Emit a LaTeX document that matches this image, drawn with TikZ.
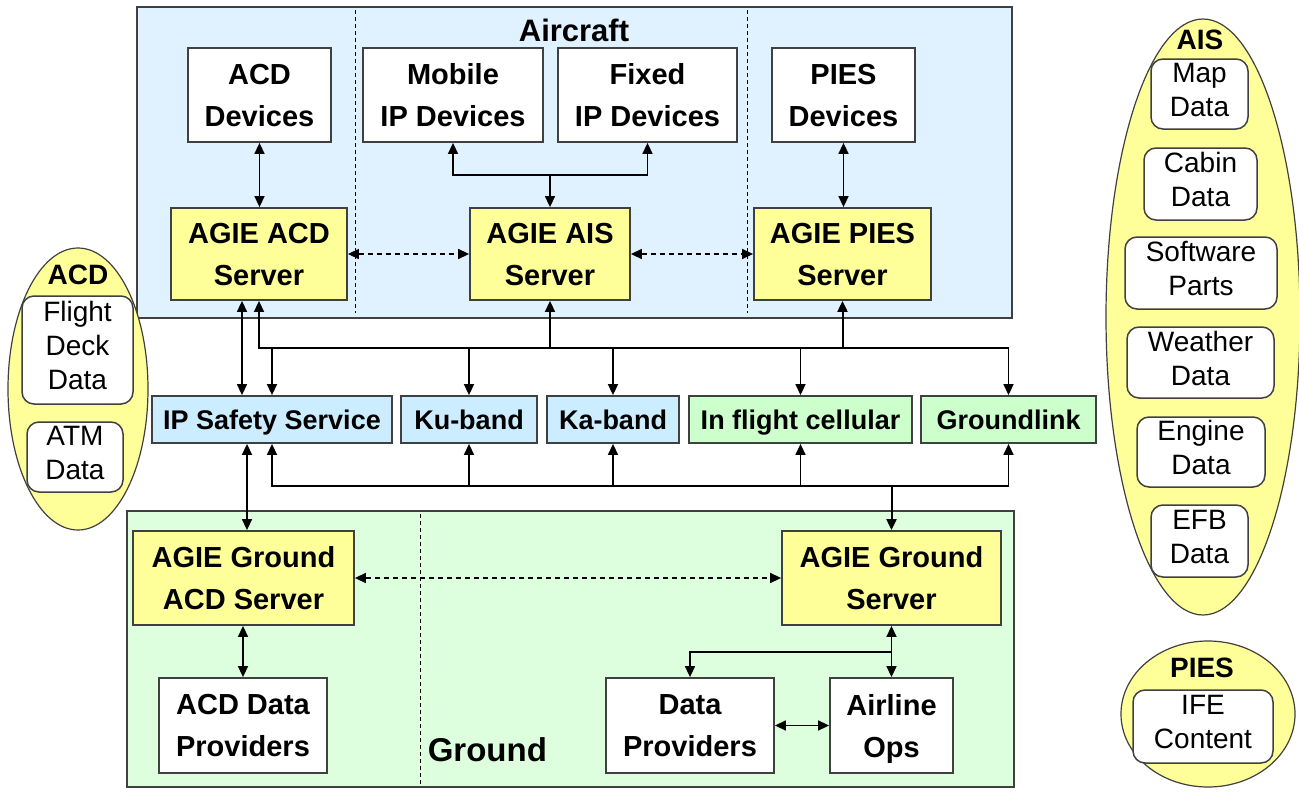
\documentclass[tikz,border=0pt]{standalone}
\usepackage{fontspec}
\setmainfont{Liberation Sans}
\usetikzlibrary{arrows.meta,shapes.geometric}
\definecolor{airblue}{RGB}{224,241,255}
\definecolor{gndgreen}{RGB}{221,255,221}
\definecolor{linkblue}{RGB}{204,236,255}
\definecolor{linkgreen}{RGB}{204,255,204}
\definecolor{srvyellow}{RGB}{255,255,153}
\definecolor{edgegray}{RGB}{64,64,64}
\newcommand{\bigbold}{\fontsize{29}{42}\selectfont\bfseries}
\newcommand{\linkfont}{\fontsize{27}{32}\selectfont\bfseries}
\newcommand{\datafont}{\fontsize{28}{34}\selectfont}
\newcommand{\grptitle}{\fontsize{28}{32}\selectfont\bfseries}
\tikzset{every picture/.style={line width=1.5pt},
  region/.style={draw=edgegray,line width=1.5pt},
  sep/.style={line width=1pt,dash pattern=on 4pt off 3pt},
  box/.style={draw=edgegray,line width=1.8pt,align=center,inner sep=0pt,text depth=0pt,font=\bigbold},
  devbox/.style={box,fill=white},
  srvbox/.style={box,fill=srvyellow},
  linkbox/.style={box,font=\linkfont,minimum height=47pt,text height=19.3pt},
  databox/.style={draw=edgegray,line width=1.5pt,fill=white,rounded corners=12pt,align=center,inner sep=0pt,text depth=9pt,font=\datafont},
  grp/.style={draw=edgegray,line width=1.2pt,ellipse,fill=srvyellow,inner sep=0pt},
  dsh/.style={dash pattern=on 5pt off 4pt}
}

\begin{document}
\begin{tikzpicture}[x=1pt,y=1pt,yscale=-1,>={Triangle[length=11pt,width=10pt]}]
\useasboundingbox (0,0) rectangle (1299,795);

%Shape: Rectangle (aircraft)
\draw[region,fill=airblue] (137,7) rectangle (1012,318);
\draw[sep] (355,10) -- (355,313);
\draw[sep] (747,10) -- (747,313);
%Shape: Rectangle (ground)
\draw[region,fill=gndgreen] (127,511) rectangle (1014,787);
\draw[sep] (420,514) -- (420,784);

% Text Node
\node[font=\fontsize{31}{36}\selectfont\bfseries] (aircraft) at (574,30) {Aircraft};
\node[font=\fontsize{33}{38}\selectfont\bfseries,anchor=west,inner sep=0pt] (ground) at (427,750) {Ground};

% aircraft devices and servers
\node[devbox,minimum width=143pt,minimum height=94pt] (acddev) at (259.5,95) {ACD\\Devices};
\node[devbox,minimum width=180pt,minimum height=94pt] (mobdev) at (453,95) {Mobile\\IP Devices};
\node[devbox,minimum width=179pt,minimum height=94pt] (fixdev) at (647.5,95) {Fixed\\IP Devices};
\node[devbox,minimum width=143pt,minimum height=94pt] (piesdev) at (843.5,95) {PIES\\Devices};
\node[srvbox,minimum width=176pt,minimum height=92pt] (acdsrv) at (259,254) {AGIE ACD\\Server};
\node[srvbox,minimum width=160pt,minimum height=92pt] (aissrv) at (550,254) {AGIE AIS\\Server};
\node[srvbox,minimum width=177pt,minimum height=92pt] (piessrv) at (842.5,254) {AGIE PIES\\Server};

% links
\node[linkbox,fill=linkblue,minimum width=240pt] (ipsafe) at (272,419.5) {IP Safety Service};
\node[linkbox,fill=linkblue,minimum width=136pt] (kuband) at (469,419.5) {Ku-band};
\node[linkbox,fill=linkblue,minimum width=132pt] (kaband) at (613,419.5) {Ka-band};
\node[linkbox,fill=linkgreen,minimum width=223pt] (cellular) at (800.5,419.5) {In flight cellular};
\node[linkbox,fill=linkgreen,minimum width=175pt] (gndlink) at (1008.5,419.5) {Groundlink};

% ground servers and providers
\node[srvbox,minimum width=221pt,minimum height=94pt] (gacdsrv) at (243.5,578) {AGIE Ground\\ACD Server};
\node[srvbox,minimum width=219pt,minimum height=94pt] (gsrv) at (891.5,578) {AGIE Ground\\Server};
\node[devbox,minimum width=168pt,minimum height=95pt] (acdprov) at (243,725.5) {ACD Data\\Providers};
\node[devbox,minimum width=168pt,minimum height=95pt] (dataprov) at (690,725.5) {Data\\Providers};
\node[devbox,minimum width=123pt,minimum height=95pt] (airops) at (891.5,725.5) {Airline\\Ops};

% data groups
\node[grp,minimum width=140pt,minimum height=282pt] (acdgrp) at (78,389) {};
\node[font=\grptitle] (acdtitle) at (78,275) {ACD};
\node[databox,minimum width=111pt,minimum height=108pt] (flight) at (77.5,350) {Flight\\Deck\\Data};
\node[databox,minimum width=96pt,minimum height=70pt] (atm) at (75,457) {ATM\\Data};

\node[grp,minimum width=194pt,minimum height=596pt] (aisgrp) at (1203,317) {};
\node[font=\grptitle] (aistitle) at (1200,40) {AIS};
\node[databox,minimum width=97pt,minimum height=70pt] (map) at (1199.5,94) {Map\\Data};
\node[databox,minimum width=113pt,minimum height=72pt] (cabin) at (1200.5,184) {Cabin\\Data};
\node[databox,minimum width=152pt,minimum height=72pt] (software) at (1201,273) {Software\\Parts};
\node[databox,minimum width=147pt,minimum height=71pt] (weather) at (1200.5,362.5) {Weather\\Data};
\node[databox,minimum width=128pt,minimum height=70pt] (engine) at (1201,452) {Engine\\Data};
\node[databox,minimum width=97pt,minimum height=72pt] (efb) at (1199.5,541) {EFB\\Data};

\node[grp,minimum width=174pt,minimum height=146pt] (piesgrp) at (1208,714) {};
\node[font=\grptitle] (piestitle) at (1202,668) {PIES};
\node[databox,minimum width=140pt,minimum height=73pt] (ife) at (1203,726.5) {IFE\\Content};

% connectors aircraft
\draw[<->] (acddev.south) -- (acddev.south |- acdsrv.north);
\draw[<->] (piesdev.south) -- (piesdev.south |- piessrv.north);
\coordinate (aisjn) at (550,175);
\draw[<->] (mobdev.south) |- (aisjn) -| (fixdev.south);
\draw[->] (aisjn) -- (aissrv.north);
\draw[<->,dsh] (acdsrv) -- (aissrv);
\draw[<->,dsh] (aissrv) -- (piessrv);

% upper bus
\coordinate (bustop) at (600,348);
\draw[<->] (acdsrv.south) |- (gndlink.north |- bustop) -- (gndlink.north);
\draw[->] (ipsafe.north |- bustop) -- (ipsafe.north);
\draw[->] (kuband.north |- bustop) -- (kuband.north);
\draw[->] (kaband.north |- bustop) -- (kaband.north);
\draw[->] (cellular.north |- bustop) -- (cellular.north);
\draw[->] (aissrv.south |- bustop) -- (aissrv.south);
\draw[->,line width=2pt] (piessrv.south |- bustop) -- (piessrv.south);
\draw[<->] ([xshift=-17pt]acdsrv.south) -- ([xshift=-30pt]ipsafe.north);

% lower bus
\coordinate (busbot) at (600,486);
\draw[<->] (ipsafe.south) |- (gndlink.south |- busbot) -- (gndlink.south);
\draw[->] (kuband.south |- busbot) -- (kuband.south);
\draw[->] (kaband.south |- busbot) -- (kaband.south);
\draw[->] (cellular.south |- busbot) -- (cellular.south);
\draw[->,line width=2pt] (gsrv.north |- busbot) -- (gsrv.north);
\draw[<->] ([xshift=-25pt]ipsafe.south) -- ([xshift=-25pt]ipsafe.south |- gacdsrv.north);

% connectors ground
\draw[<->,dsh] (gacdsrv) -- (gsrv);
\draw[<->] (acdprov.north) -- (acdprov.north |- gacdsrv.south);
\coordinate (gjn) at (892,652);
\draw[<->] (gsrv.south) -- (gsrv.south |- airops.north);
\draw[->] (gsrv.south |- gjn) -| (dataprov.north);
\draw[<->] (dataprov) -- (airops);

\end{tikzpicture}
\end{document}
